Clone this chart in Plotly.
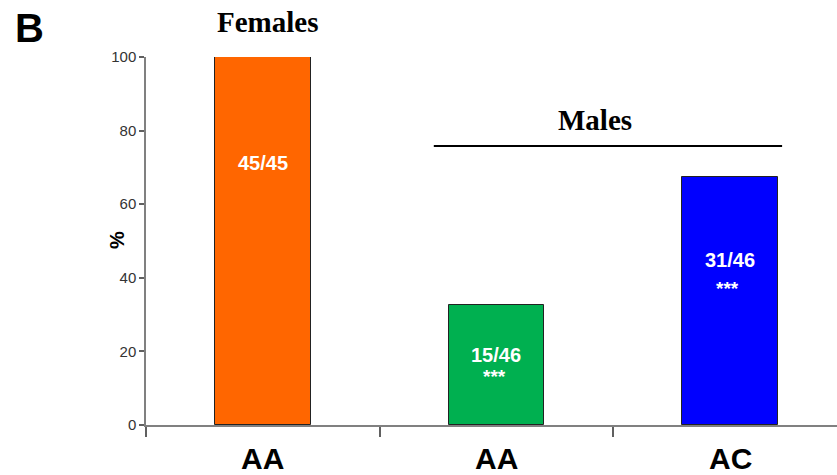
import plotly.graph_objects as go

# Data
categories = ["AA", "AA", "AC"]
counts = [45, 15, 31]
totals = [45, 46, 46]
percent = [100 * c / t for c, t in zip(counts, totals)]
significance = ["", "***", "***"]
bar_colors = ["#FF6600", "#00B050", "#0000FF"]
y_ticks = [0, 20, 40, 60, 80, 100]

x_pos = list(range(len(categories)))

# plot area in pixels, used to place labels that sit in the margins
W, H = 837, 475
L, R, T, B = 146, 0, 57, 50
PW, PH = W - L - R, H - T - B


def px_to_paper(px, py):
    return (px - L) / PW, (H - B - py) / PH


fig = go.Figure()
fig.add_trace(go.Bar(
    x=x_pos, y=percent, width=0.41,
    marker=dict(color=bar_colors, line=dict(color="#222222", width=1)),
    hoverinfo="skip", showlegend=False,
))

annotations = []
# ratio labels and significance stars inside the bars
ratio_y = [71.2, 19.0, 44.8]
star_y = [None, 13.3, 37.2]
for i in x_pos:
    annotations.append(dict(
        x=i, y=ratio_y[i], xref="x", yref="y", text=f"<b>{counts[i]}/{totals[i]}</b>",
        showarrow=False, font=dict(family="Liberation Sans, Arial", size=20, color="white")))
    if significance[i]:
        annotations.append(dict(
            x=i - 0.01, y=star_y[i], xref="x", yref="y", text=f"<b>{significance[i]}</b>",
            showarrow=False, font=dict(family="Liberation Sans, Arial", size=19, color="white")))

# category labels under the axis
_, cat_y = px_to_paper(0, 476)
for i in x_pos:
    annotations.append(dict(
        x=i, y=cat_y, xref="x", yref="paper", text=f"<b>{categories[i]}</b>",
        showarrow=False, yanchor="bottom", borderpad=0,
        font=dict(family="Liberation Sans, Arial", size=30, color="black")))

# group titles
_, fem_y = px_to_paper(0, 22)
annotations.append(dict(
    x=0.02, y=fem_y, xref="x", yref="paper", text="<b>Females</b>", showarrow=False,
    yanchor="middle",
    font=dict(family="Liberation Serif, Times New Roman", size=29, color="black")))
annotations.append(dict(
    x=1.42, y=83.0, xref="x", yref="y", text="<b>Males</b>", showarrow=False,
    font=dict(family="Liberation Serif, Times New Roman", size=29, color="black")))

# panel letter
bx, by = px_to_paper(29, 28)
annotations.append(dict(
    x=bx, y=by, xref="paper", yref="paper", text="<b>B</b>",
    showarrow=False, font=dict(family="Liberation Sans, Arial", size=40, color="black"),
    xanchor="center", yanchor="middle"))

# y axis title
px_, py_ = px_to_paper(117, 240)
annotations.append(dict(
    x=px_, y=py_, xref="paper", yref="paper", text="<b>%</b>",
    showarrow=False, textangle=-90,
    font=dict(family="Liberation Sans, Arial", size=20, color="black"),
    xanchor="center", yanchor="middle"))

fig.update_layout(
    width=W, height=H,
    margin=dict(l=L, r=R, t=T, b=B),
    plot_bgcolor="white", paper_bgcolor="white",
    annotations=annotations,
    shapes=[dict(type="line", xref="x", yref="y", x0=0.732, x1=2.223, y0=75.8, y1=75.8,
                 line=dict(color="black", width=2))],
    xaxis=dict(range=[-0.5, 2.458], tickmode="array", tickvals=[-0.5, 0.5, 1.5, 2.5],
               showticklabels=False, ticks="outside", ticklen=10, tickcolor="#606060",
               tickwidth=1.5, showline=True, linecolor="#808080", linewidth=1.5,
               showgrid=False, zeroline=False),
    yaxis=dict(range=[0, 100], tickmode="array", tickvals=y_ticks,
               ticks="outside", ticklen=5, tickcolor="#606060", tickwidth=1.5,
               showline=True, linecolor="#808080", linewidth=1.5, showgrid=False,
               zeroline=False, tickfont=dict(family="Liberation Sans, Arial", size=15, color="#333333")),
    bargap=0,
)

fig.write_html("out.html")
